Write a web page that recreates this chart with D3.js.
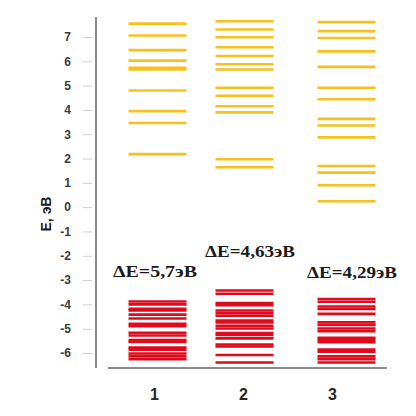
<!DOCTYPE html>
<html>
<head>
<meta charset="utf-8">
<script src="https://cdn.jsdelivr.net/npm/d3@7"></script>
<style>
  body { margin: 0; background: #fff; }
  svg { display: block; }
</style>
</head>
<body>
<script>
const svgWidth = 416,
    svgHeight = 416;

// categories (structures) and energy levels, eV
const categories = ["1", "2", "3"];
const yTicks = [-6, -5, -4, -3, -2, -1, 0, 1, 2, 3, 4, 5, 6, 7];
const gapLabels = ["ΔE=5,7эВ", "ΔE=4,63эВ", "ΔE=4,29эВ"];

// unoccupied levels (yellow)
const upper1 = [7.55, 7.06, 6.46, 6.03, 5.73, 5.66, 4.80, 3.95, 3.46, 2.18];
const upper2 = [7.65, 7.31, 6.99, 6.58, 6.22, 5.88, 5.66, 4.91, 4.58, 4.15, 3.90, 1.97, 1.64];
const upper3 = [7.61, 7.24, 6.96, 6.41, 5.77, 4.91, 4.44, 3.63, 3.36, 2.87, 1.69, 1.42, 0.90, 0.24];

// occupied levels (red)
const lower1 = [-3.88, -4.0, -4.18, -4.25, -4.42, -4.58, -4.80, -4.90, -5.17, -5.28, -5.47, -5.55, -5.78, -5.86, -6.02, -6.13, -6.25];
const lower2 = [-3.43, -3.56, -3.95, -4.03, -4.25, -4.36, -4.47, -4.66, -4.74, -4.88, -4.99, -5.18, -5.26, -5.40, -5.65, -5.73, -6.08, -6.39];
const lower3 = [-3.78, -3.89, -4.09, -4.19, -4.39, -4.74, -4.85, -4.99, -5.10, -5.37, -5.45, -5.56, -5.86, -5.95, -6.14, -6.25, -6.39];

const uppers = [upper1, upper2, upper3];
const lowers = [lower1, lower2, lower3];

var svg = d3.select("body").append("svg")
    .attr("width", svgWidth)
    .attr("height", svgHeight);

var y = d3.scaleLinear().domain([-6, 7]).range([353, 37]);

// column centres of the level stacks
var x = d3.scaleOrdinal().domain(categories).range([157.5, 244.5, 346.5]);
var halfW = 29;

// band scale for the category labels under the axis
var xLab = d3.scaleBand().domain(categories).range([110, 377]);

// y axis line and ticks
svg.append("line")
    .attr("x1", 96).attr("x2", 96)
    .attr("y1", 17).attr("y2", 368)
    .attr("stroke", "#8c8c8c").attr("stroke-width", 2);

var yAxis = svg.append("g")
    .attr("transform", "translate(92,0)")
    .call(d3.axisLeft(y).tickValues(yTicks).tickSize(9).tickPadding(12)
        .tickFormat(function (d) { return String(d); }));
yAxis.select(".domain").remove();
yAxis.selectAll(".tick line").attr("stroke", "#d0d0d0").attr("stroke-width", 1);
yAxis.selectAll(".tick text")
    .attr("fill", "#3a3a3a")
    .style("font-family", "Liberation Sans, Arial, sans-serif")
    .style("font-weight", "bold")
    .style("font-size", "12px");

// x axis line
svg.append("line")
    .attr("x1", 108).attr("x2", 387)
    .attr("y1", 368).attr("y2", 368)
    .attr("stroke", "#8c8c8c").attr("stroke-width", 2);

svg.append("g").selectAll("text")
    .data(categories).enter()
    .append("text")
    .attr("x", function (d) { return xLab(d) + xLab.bandwidth() / 2; })
    .attr("y", 400)
    .attr("text-anchor", "middle")
    .attr("fill", "#262626")
    .style("font-family", "Liberation Sans, Arial, sans-serif")
    .style("font-weight", "bold")
    .style("font-size", "16px")
    .text(function (d) { return d; });

// axis title
svg.append("text")
    .attr("transform", "translate(51,214) rotate(-90)")
    .attr("text-anchor", "middle")
    .attr("fill", "#1a1a1a")
    .style("font-family", "Liberation Sans, Arial, sans-serif")
    .style("font-weight", "bold")
    .style("font-size", "14px")
    .text("Е, эВ");

// energy levels
function levels(list, color) {
    list.forEach(function (vals, i) {
        var c = categories[i];
        svg.append("g").selectAll("line")
            .data(vals).enter()
            .append("line")
            .attr("x1", x(c) - halfW)
            .attr("x2", x(c) + halfW)
            .attr("y1", function (d) { return y(d); })
            .attr("y2", function (d) { return y(d); })
            .attr("stroke", color)
            .attr("stroke-width", 2.6);
    });
}
levels(uppers, "#f8c01c");
levels(lowers, "#df0a1c");

// band gap labels, placed above the highest occupied level
var labelDx = [-2.5, 5.5, 5.5],
    labelDy = [24.5, 33.5, 21.5],
    labelW = [84, 90, 90];
svg.append("g").selectAll("text")
    .data(gapLabels).enter()
    .append("text")
    .attr("x", function (d, i) { return x(categories[i]) + labelDx[i] - labelW[i] / 2; })
    .attr("y", function (d, i) { return y(lowers[i][0]) - labelDy[i]; })
    .attr("textLength", function (d, i) { return labelW[i]; })
    .attr("lengthAdjust", "spacingAndGlyphs")
    .attr("fill", "#1a1a1a")
    .style("font-family", "Liberation Serif, Times New Roman, serif")
    .style("font-weight", "bold")
    .style("font-size", "16px")
    .text(function (d) { return d; });
</script>
</body>
</html>
